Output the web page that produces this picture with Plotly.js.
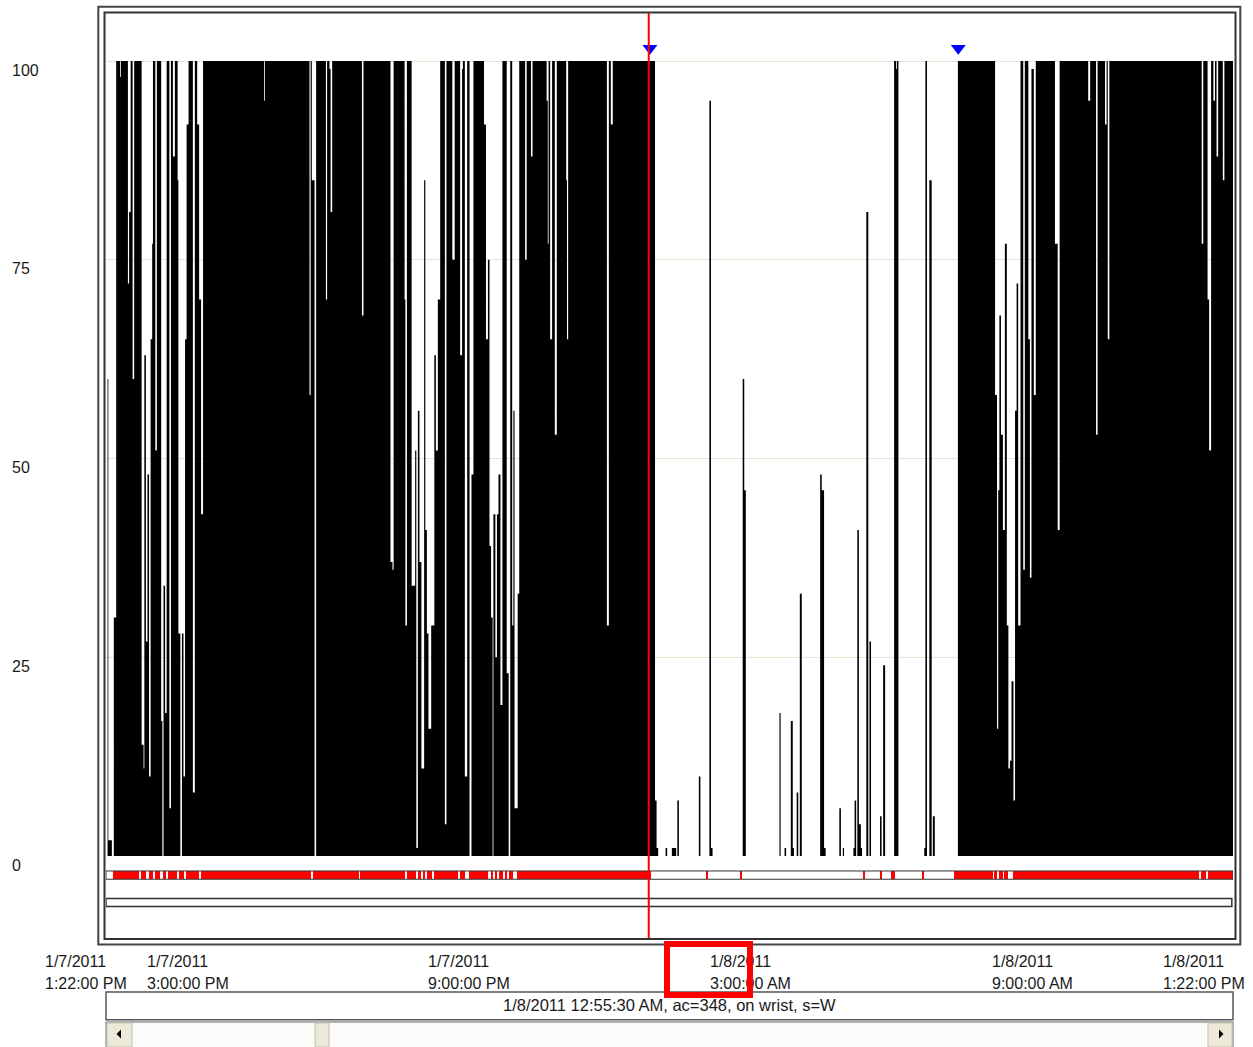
<!DOCTYPE html>
<html>
<head>
<meta charset="utf-8">
<script src="https://cdn.plot.ly/plotly-3.0.1.min.js"></script>
<style>html,body{margin:0;padding:0;background:#fff;}#chart{width:1253px;height:1047px;}</style>
</head>
<body>
<div id="chart"></div>
<script>
// Activity record: minutes after 1/7/2011 1:22:00 PM where each level starts (step data), and the activity level (counts, display capped at 100)
const actT = [0,2,3,7.5,10,13,18,19,28,29.5,31.5,34,36,45.5,48,49,51,53,55,57,59,60,63,65,70.5,72,73.5,75.5,77.5,81,83,85.5,88,91.5,92.5,95,97,99,101,103,105.5,111,113.5,116.5,119,121.5,124,202,203,
  260,261.5,263,266.5,268.5,281,282.5,285.5,287,289,327,329,363.5,366,367.5,381.5,382.5,384.5,390.5,395,396.5,398.5,400.5,403,406.5,408,410,412,415.5,419.5,421.5,424,427,433,435,442.5,445.5,452.5,455,456,458.5,461.5,464.5,467,469.5,
  483,485.5,488,490,492,494,495,497.5,499.5,501.5,504,506.5,512,514.5,516.5,519,520.5,522,526,528,535.5,537.5,543,545,563,564.5,565.5,567.5,570,573.5,576,588,589,590.5,640,642.5,645,647.5,
  701.5,703.5,705.5,715,717,723,728.5,730,732,757.5,759.5,771,773,775,813.5,815.5,817.5,860.5,862,867,869,875,877.5,879,882.5,884.5,886.5,889,912.5,914.5,917.5,919.5,937,939,941.5,943,955,956.5,958.5,960,962,964.5,966,971.5,974,975.5,977.5,989,991,993,995.5,1007,1009.5,1010.5,1012.5,1045.5,1047,1049,1052,1055,1056.5,1059,
  1088.5,1136,1138.5,1140,1141.5,1143.5,1146,1148.5,1151,1153,1155,1157,1159.5,1161.5,1163.5,1165.5,1168.5,1172,1174,1178.5,1180.5,1182.5,1185.5,1188,1212.5,1216,1218.5,1255,1257.5,
  1265,1267,1276.5,1278.5,1280,1282,1400,1402,1407.5,1409.5,1412,1415,1417,1419,1421,1427,1429];
const actV = [0,60,2,0,30,100,98,100,72,81,100,60,100,14,11,63,27,48,10,65,77,100,51,100,17,0,34,18,100,6,100,88,100,85,28,0,28,10,65,92,100,8,100,92,70,43,100,95,100,
  58,100,85,0,100,70,100,99,81,100,68,100,37,36,100,70,29,100,34,51,1,56,37,11,85,41,28,16,29,63,51,70,100,4,100,75,100,63,99,100,10,100,0,48,100,
  92,65,75,39,30,0,43,25,43,48,19,100,23,0,100,29,56,6,33,100,75,100,88,100,95,77,100,65,100,53,100,85,65,100,29,100,92,100,
  7,1,0,1,0,1,0,7,0,10,0,95,1,0,60,46,0,18,0,1,0,17,1,0,8,0,33,0,48,46,1,0,6,0,1,0,1,7,0,41,4,1,0,81,0,27,0,5,0,24,0,100,99,100,0,1,100,0,85,0,5,0,
  100,58,16,46,68,53,41,77,29,11,12,22,7,56,72,29,100,36,100,65,35,99,58,100,77,41,100,95,100,
  53,100,92,100,65,100,77,100,70,51,100,95,100,88,100,85,100];
const recordEnd = 1440;

// Wake-scored intervals (minutes after start)
const wakeStart = [9,44.5,55,62.5,73,79,93.5,102,121.5,264.5,324.5,384.5,398.5,405,410,419,452.5,464,492,497,502,510,515,525,766.5,810,967,989,1003,1042.5,1083.5,1135,1141,1147.5,1159,1398.5,1408];
const wakeEnd   = [42,51,60,69,76.5,90.5,99.5,119,262,323.5,382,396,402.5,407.5,416.5,450,458.5,488,494.5,499.5,507.5,512.5,520,696.5,769,812.5,970,991.5,1008,1045,1133.5,1139,1145.5,1152.5,1396.5,1405.5,1440];

// Interval markers (bed / rise) and cursor
const markerT = [695, 1089];
const cursorT = 693.5;

// Axis labels
const tickT = [0, 98, 458, 818, 1178, 1440];
const tickDate = ['1/7/2011','1/7/2011','1/7/2011','1/8/2011','1/8/2011','1/8/2011'];
const tickTime = ['1:22:00 PM','3:00:00 PM','9:00:00 PM','3:00:00 AM','9:00:00 AM','1:22:00 PM'];
const yTicks = [0, 25, 50, 75, 100];
const statusText = '1/8/2011 12:55:30 AM, ac=348, on wrist, s=W';

// ---- build traces ----
const FONT = 'Liberation Sans, Arial, sans-serif';
const stepX = actT.concat([recordEnd]);
const stepY = actV.concat([actV[actV.length - 1]]);

const activity = {
  type: 'scatter', mode: 'lines', x: stepX, y: stepY,
  line: {shape: 'hv', width: 0, color: '#000'},
  fill: 'tozeroy', fillcolor: '#000', hoverinfo: 'skip', showlegend: false
};

const stripBase = -2.85, stripH = 0.92;
const wake = {
  type: 'bar',
  x: wakeStart.map((s, i) => (s + wakeEnd[i]) / 2),
  width: wakeStart.map((s, i) => wakeEnd[i] - s),
  y: wakeStart.map(() => stripH),
  base: stripBase,
  marker: {color: '#ff0000', line: {width: 0}},
  hoverinfo: 'skip', showlegend: false
};

const markerLevel = 101.6;
const markers = {
  type: 'scatter', mode: 'markers', x: markerT, y: markerT.map(() => markerLevel),
  marker: {symbol: 'triangle-down', size: 13, color: '#0000ff', line: {width: 0}},
  hoverinfo: 'skip', showlegend: false
};

const labelFont = {family: FONT, size: 16, color: '#1a1a1a'};
const annotations = [];
tickT.forEach((t, i) => {
  const shift = i === 0 ? -63 : (i === tickT.length - 1 ? -72 : -38);
  annotations.push({
    x: t, xref: 'x', y: -0.0249, yref: 'paper', xanchor: 'left', yanchor: 'middle',
    xshift: shift, showarrow: false, text: tickDate[i], font: labelFont
  });
  annotations.push({
    x: t, xref: 'x', y: -0.0487, yref: 'paper', xanchor: 'left', yanchor: 'middle',
    xshift: shift, showarrow: false, text: tickTime[i], font: labelFont
  });
});
yTicks.forEach(v => {
  annotations.push({
    x: -0.0852, xref: 'paper', y: v, yref: 'y', xanchor: 'left', yanchor: 'middle',
    yshift: -9, showarrow: false, text: String(v), font: labelFont
  });
});
annotations.push({
  x: 0.4996, xref: 'paper', y: -0.0724, yref: 'paper', xanchor: 'center', yanchor: 'middle',
  showarrow: false, text: statusText, font: {family: FONT, size: 16.5, color: '#1a1a1a'}
});
// red highlight box (drawn above tick labels)
annotations.push({
  x: 0.5342, xref: 'paper', y: -0.0342, yref: 'paper', xanchor: 'center', yanchor: 'middle',
  showarrow: false, text: ' ', width: 77.4, height: 45.3, borderwidth: 6, borderpad: 0,
  bordercolor: '#ff0000', bgcolor: 'rgba(0,0,0,0)', font: {size: 2}
});

const shapes = [
  // outer and inner frames
  {type: 'rect', xref: 'paper', yref: 'paper', x0: -0.00683, x1: 1.00648, y0: -0.00703, y1: 1.00681, line: {color: '#444', width: 2}},
  {type: 'rect', xref: 'paper', yref: 'paper', x0: -0.00133, x1: 1.00222, y0: -0.00108, y1: 1.00054, line: {color: '#333', width: 2}},
  // score strip boxes
  {type: 'rect', xref: 'x', yref: 'y', x0: 0, x1: recordEnd, y0: -2.92, y1: -1.88, line: {color: '#333', width: 1}},
  {type: 'rect', xref: 'x', yref: 'y', x0: 0, x1: 1438.5, y0: -6.35, y1: -5.33, line: {color: '#333', width: 1.5}},
  // cursor
  {type: 'line', xref: 'x', yref: 'paper', x0: cursorT, x1: cursorT, y0: 0, y1: 1, line: {color: '#ff0000', width: 2}},
  // status box
  {type: 'rect', xref: 'paper', yref: 'paper', x0: 0, x1: 1, y0: -0.0884, y1: -0.0584, fillcolor: '#fff', line: {color: '#555', width: 1.5}},
  // scrollbar
  {type: 'rect', xref: 'paper', yref: 'paper', x0: 0, x1: 1, y0: -0.1186, y1: -0.0908, fillcolor: '#fbfbf9', line: {color: '#666', width: 1}},
  {type: 'rect', xref: 'paper', yref: 'paper', x0: 0.0009, x1: 0.0231, y0: -0.1178, y1: -0.0919, fillcolor: '#ECE9D8', line: {color: '#c4c0ad', width: 1}},
  {type: 'rect', xref: 'paper', yref: 'paper', x0: 0.1855, x1: 0.1979, y0: -0.1178, y1: -0.0919, fillcolor: '#ECE9D8', line: {color: '#c4c0ad', width: 1}},
  {type: 'rect', xref: 'paper', yref: 'paper', x0: 0.9778, x1: 0.9991, y0: -0.1178, y1: -0.0919, fillcolor: '#ECE9D8', line: {color: '#c4c0ad', width: 1}},
  {type: 'path', xref: 'paper', yref: 'paper', path: 'M 0.00932 -0.10378 L 0.01331 -0.09892 L 0.01331 -0.10865 Z', fillcolor: '#000', line: {width: 0}},
  {type: 'path', xref: 'paper', yref: 'paper', path: 'M 0.99157 -0.10378 L 0.98758 -0.09892 L 0.98758 -0.10865 Z', fillcolor: '#000', line: {width: 0}}
];

const layout = {
  width: 1253, height: 1047,
  margin: {l: 106, r: 20, t: 13, b: 109, pad: 0},
  paper_bgcolor: '#fff', plot_bgcolor: '#fff',
  showlegend: false, bargap: 0,
  xaxis: {range: [0, recordEnd], showgrid: false, zeroline: false, showticklabels: false, ticks: '', showline: false, fixedrange: true},
  yaxis: {range: [-10.31, 106.04], tickvals: [25, 50, 75, 100], showgrid: true, gridcolor: '#E8E4D2', gridwidth: 1,
          zeroline: false, showticklabels: false, ticks: '', showline: false, fixedrange: true},
  annotations: annotations,
  shapes: shapes
};

Plotly.newPlot('chart', [activity, wake, markers], layout, {displayModeBar: false, staticPlot: true});
</script>
</body>
</html>
